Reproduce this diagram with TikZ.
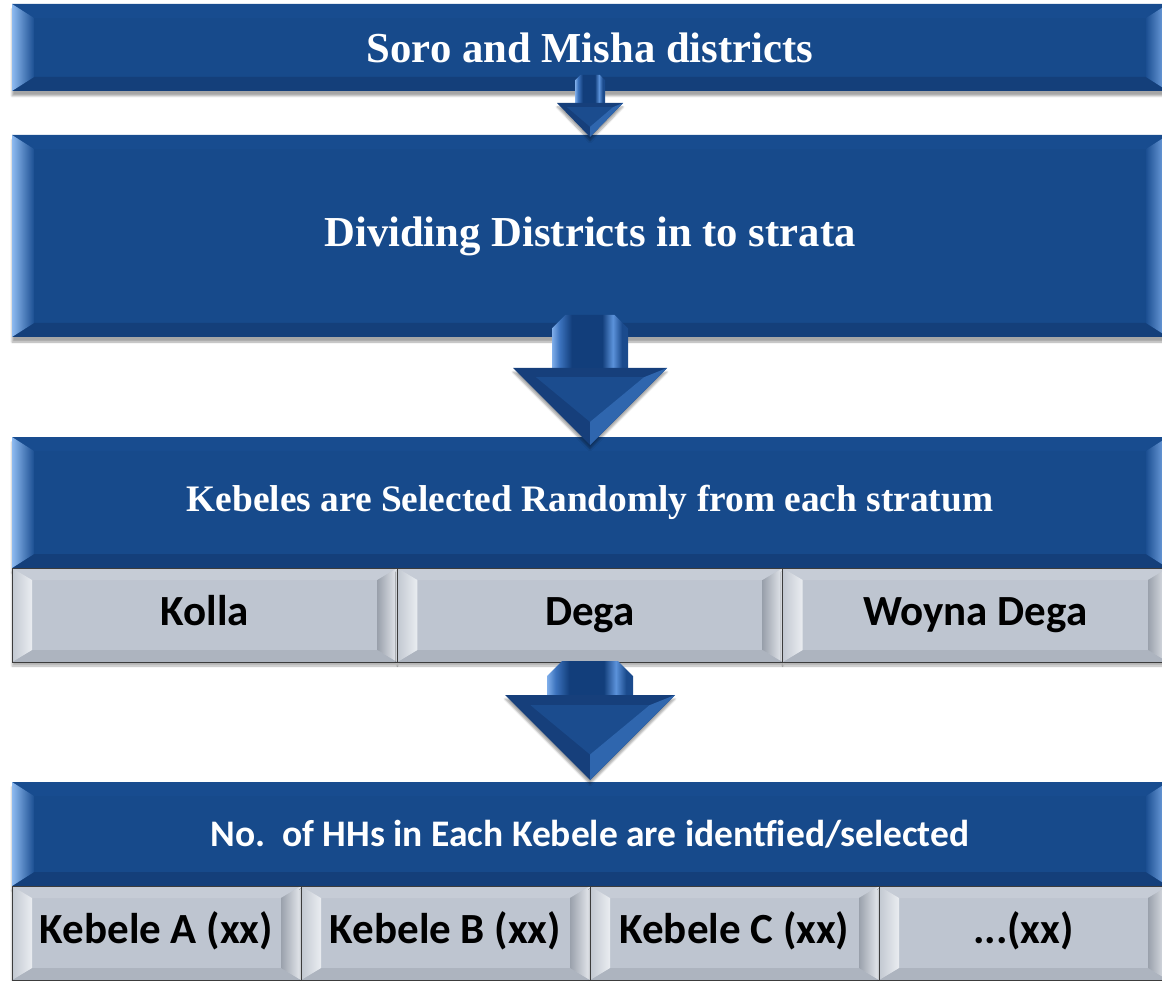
\documentclass[tikz,border=0pt]{standalone}
\usepackage{fontspec}
\setmainfont{Liberation Serif}
\newfontfamily\carlito{Carlito}
\usetikzlibrary{calc,shadows.blur}
\definecolor{bface}{HTML}{174A8B}
\definecolor{btop}{HTML}{184C8F}
\definecolor{bbot}{HTML}{143F7A}
\definecolor{bLo}{HTML}{8DBAF0}
\definecolor{bLi}{HTML}{1C4F92}
\definecolor{bRi}{HTML}{1C4F92}
\definecolor{bRo}{HTML}{7FAEEB}
\definecolor{gface}{HTML}{BEC5D0}
\definecolor{gtop}{HTML}{C6CCD6}
\definecolor{gbot}{HTML}{ADB4BF}
\definecolor{gLo}{HTML}{C2C8D1}
\definecolor{gLi}{HTML}{EAEDF1}
\definecolor{gRi}{HTML}{9AA1AC}
\definecolor{gRo}{HTML}{E6E9EE}
\definecolor{gline}{HTML}{3C3C3C}
\definecolor{sA}{HTML}{7FAEEA}
\definecolor{sB}{HTML}{3C73BE}
\definecolor{sC}{HTML}{123E7B}
\definecolor{sD}{HTML}{5B92DA}
\definecolor{sE}{HTML}{1B4B8D}
\definecolor{headd}{HTML}{163F7B}
\definecolor{headm}{HTML}{1B4C8E}
\definecolor{headl}{HTML}{2F66AE}
\pgfdeclarehorizontalshading{shaftsh}{100bp}{color(0bp)=(sA); color(25bp)=(sA); color(30bp)=(sB); color(38bp)=(sC); color(58bp)=(sC); color(65bp)=(sD); color(71bp)=(sE); color(75bp)=(sE); color(100bp)=(sE)}
\newcommand\bevelpic[8]{%
  \coordinate (pNW) at (path picture bounding box.north west);
  \coordinate (pNE) at (path picture bounding box.north east);
  \coordinate (pSW) at (path picture bounding box.south west);
  \coordinate (pSE) at (path picture bounding box.south east);
  \fill[#3] (pNW) -- (pNE) -- ($(pNE)+(-#1,-#2)$) -- ($(pNW)+(#1,-#2)$) -- cycle;
  \fill[#4] (pSW) -- (pSE) -- ($(pSE)+(-#1,#2)$) -- ($(pSW)+(#1,#2)$) -- cycle;
  \shade[left color=#5, right color=#6] (pNW) -- ($(pNW)+(#1,-#2)$) -- ($(pSW)+(#1,#2)$) -- (pSW) -- cycle;
  \shade[left color=#7, right color=#8] (pNE) -- ($(pNE)+(-#1,-#2)$) -- ($(pSE)+(-#1,#2)$) -- (pSE) -- cycle;
}
\newcommand\blockarrow[5]{%
  \coordinate (aT) at (#1);
  \coordinate (aP) at (#2);
  \coordinate (aBL) at ($(aP)+(-#5,#4)$);
  \coordinate (aBR) at ($(aP)+(#5,#4)$);
  \coordinate (aSL) at ($(aP)+(-#3,#4)$);
  \coordinate (aSR) at ($(aP)+(#3,#4)$);
  \shade[shading=shaftsh] (aSL) -- ($(aT)+(-#3,-0.35*#3)$) -- ($(aT)+(-0.65*#3,0)$) -- ($(aT)+(0.65*#3,0)$) -- ($(aT)+(#3,-0.35*#3)$) -- (aSR) -- cycle;
  \fill[headd, blur shadow={shadow xshift=0pt, shadow yshift=-4pt, shadow blur steps=6, shadow opacity=35}] (aBL) -- (aBR) -- (aP) -- cycle;
  \fill[headm] ($(aBL)+(0.3*#5,-0.12*#4)$) -- ($(aBR)+(-0.3*#5,-0.12*#4)$) -- ($(aP)+(0,0.3*#4)$) -- cycle;
  \fill[headl] (aBR) -- (aP) -- ($(aP)+(0,0.3*#4)$) -- ($(aBR)+(-0.3*#5,-0.12*#4)$) -- cycle;
}
\tikzset{
  bluebox/.style={fill=bface, inner sep=0pt, outer sep=0pt, text=white,
    blur shadow={shadow xshift=0pt, shadow yshift=-5pt, shadow blur steps=6, shadow opacity=35},
    path picture={\bevelpic{22pt}{14pt}{btop}{bbot}{bLo}{bLi}{bRi}{bRo}}},
  greycell/.style={fill=gface, draw=gline, line width=0.9pt, inner sep=0pt, outer sep=0pt,
    text=black, font=\carlito\bfseries\fontsize{43}{50}\selectfont,
    minimum height=94pt, text height=29pt, text depth=9pt,
    blur shadow={shadow xshift=0pt, shadow yshift=-4pt, shadow blur steps=6, shadow opacity=30},
    path picture={\bevelpic{20pt}{12pt}{gtop}{gbot}{gLo}{gLi}{gRi}{gRo}}},
  serifbig/.style={font=\bfseries\fontsize{42.7}{48}\selectfont},
}
\begin{document}
\begin{tikzpicture}[x=1pt,y=-1pt]
\useasboundingbox (0,0) rectangle (1162,981);
\clip (0,0) rectangle (1162,981);
% boxes
\node[bluebox, serifbig, minimum width=1156pt, minimum height=87pt] (b1) at (590,47.5) {Soro and Misha districts};
\node[bluebox, serifbig, minimum width=1156pt, minimum height=202pt] (b2) at (590,236) {Dividing Districts in to strata};
\node[bluebox, font=\bfseries\fontsize{37.4}{44}\selectfont, minimum width=1156pt, minimum height=131pt] (b3) at (590,502.5) {\raisebox{5pt}{Kebeles are Selected Randomly from each stratum}};
\node[greycell, minimum width=385.33pt] (g1a) at (204.67,615) {Kolla};
\node[greycell, minimum width=385.33pt] (g1b) at (590,615) {Dega};
\node[greycell, minimum width=385.33pt] (g1c) at (975.33,615) {Woyna Dega};
\node[bluebox, font=\carlito\bfseries\fontsize{37.5}{44}\selectfont, minimum width=1156pt, minimum height=104pt] (b4) at (590,834) {No.\ \ of HHs in Each Kebele are identfied/selected};
\node[greycell, minimum width=289pt] (g2a) at (156.5,933) {Kebele A (xx)};
\node[greycell, minimum width=289pt] (g2b) at (445.5,933) {Kebele B (xx)};
\node[greycell, minimum width=289pt] (g2c) at (734.5,933) {Kebele C (xx)};
\node[greycell, minimum width=289pt] (g2d) at (1023.5,933) {...(xx)};
% arrows
\blockarrow{$(b1.south)+(0,16pt)$}{$(b2.north)+(0,-2pt)$}{15pt}{34pt}{33pt}
\blockarrow{$(b2.south)+(0,22pt)$}{$(b3.north)+(0,-8pt)$}{38pt}{77pt}{77pt}
\blockarrow{$(g1b.south)+(0,1pt)$}{$(b4.north)+(0,2pt)$}{43pt}{85pt}{85pt}
\end{tikzpicture}
\end{document}
